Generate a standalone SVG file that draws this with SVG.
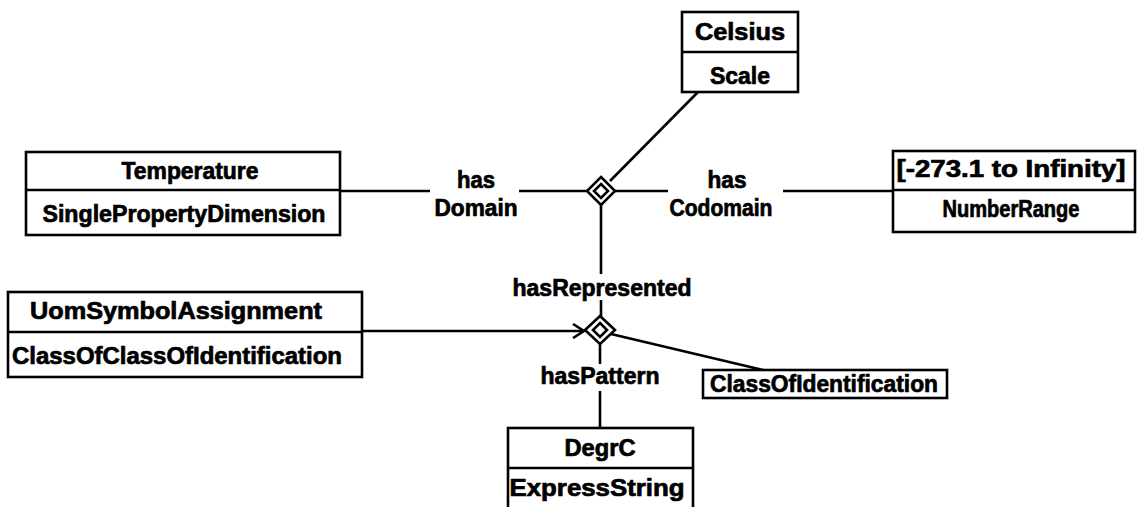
<svg xmlns="http://www.w3.org/2000/svg" width="1139" height="507" viewBox="0 0 1139 507">
<style>
.box{fill:#fff;stroke:#000;stroke-width:2.6}
.div{stroke:#000;stroke-width:2.6}
.ln{stroke:#000;stroke-width:2.6;fill:none}
.dia{fill:#fff;stroke:#000;stroke-width:2.6}
text{font-family:"Liberation Sans",Arial,sans-serif;font-weight:bold;font-size:23px;fill:#000;stroke:#000;stroke-width:0.7;text-anchor:middle}
</style>
<defs>
<marker id="open" markerWidth="14" markerHeight="16" refX="12" refY="8" orient="auto" markerUnits="userSpaceOnUse">
<path d="M1,1 L12,8 L1,15" fill="none" stroke="#000" stroke-width="2.6"/>
</marker>
</defs>
<rect width="1139" height="507" fill="#fff"/>
<g id="connectors">
<line class="ln" x1="340" y1="191" x2="430" y2="191"/>
<line class="ln" x1="519" y1="191" x2="588" y2="191"/>
<line class="ln" x1="614" y1="191" x2="668" y2="191"/>
<line class="ln" x1="783" y1="191" x2="893" y2="191"/>
<line class="ln" x1="610" y1="181" x2="698" y2="92"/>
<line class="ln" x1="601" y1="204" x2="601" y2="274"/>
<line class="ln" x1="601" y1="300" x2="601" y2="317"/>
<line class="ln" x1="362" y1="331" x2="584" y2="331" marker-end="url(#open)"/>
<line class="ln" x1="600" y1="343" x2="600" y2="364"/>
<line class="ln" x1="600" y1="391" x2="600" y2="428"/>
<line class="ln" x1="611" y1="334" x2="763" y2="370"/>
<text x="476" y="188" textLength="38" lengthAdjust="spacingAndGlyphs">has</text>
<text x="476" y="216" textLength="83" lengthAdjust="spacingAndGlyphs">Domain</text>
<text x="727" y="188" textLength="39" lengthAdjust="spacingAndGlyphs">has</text>
<text x="721" y="216" textLength="103" lengthAdjust="spacingAndGlyphs">Codomain</text>
<text x="602" y="296" textLength="179" lengthAdjust="spacingAndGlyphs">hasRepresented</text>
<text x="600" y="384" textLength="119" lengthAdjust="spacingAndGlyphs">hasPattern</text>
</g>
<g id="diamond1">
<polygon class="dia" points="601,177 615,191 601,205 587,191"/>
<polygon class="dia" points="601,184 608,191 601,198 594,191"/>
</g>
<g id="diamond2">
<polygon class="dia" points="600,316 615,330 600,344 585,330"/>
<polygon class="dia" points="600,323 607,330 600,337 593,330"/>
</g>
<g id="celsius">
<rect class="box" x="682" y="12" width="116" height="80"/>
<line class="div" x1="682" y1="52" x2="798" y2="52"/>
<text x="740" y="40" textLength="90" lengthAdjust="spacingAndGlyphs">Celsius</text>
<text x="740" y="84" textLength="60" lengthAdjust="spacingAndGlyphs">Scale</text>
</g>
<g id="temperature">
<rect class="box" x="26" y="152" width="314" height="83"/>
<line class="div" x1="26" y1="190" x2="340" y2="190"/>
<text x="190" y="179" textLength="137" lengthAdjust="spacingAndGlyphs">Temperature</text>
<text x="184" y="222" textLength="283" lengthAdjust="spacingAndGlyphs">SinglePropertyDimension</text>
</g>
<g id="numberrange">
<rect class="box" x="893" y="151" width="242" height="81"/>
<line class="div" x1="893" y1="190" x2="1135" y2="190"/>
<text x="1011" y="177" textLength="229" lengthAdjust="spacingAndGlyphs">[-273.1 to Infinity]</text>
<text x="1011" y="217" textLength="137" lengthAdjust="spacingAndGlyphs">NumberRange</text>
</g>
<g id="uomsymbolassignment">
<rect class="box" x="8" y="292" width="354" height="85"/>
<line class="div" x1="8" y1="332" x2="362" y2="332"/>
<text x="176" y="319" textLength="292" lengthAdjust="spacingAndGlyphs">UomSymbolAssignment</text>
<text x="177" y="364" textLength="330" lengthAdjust="spacingAndGlyphs">ClassOfClassOfIdentification</text>
</g>
<g id="classofidentification">
<rect class="box" x="703" y="370" width="244" height="28"/>
<text x="824" y="392" textLength="228" lengthAdjust="spacingAndGlyphs">ClassOfIdentification</text>
</g>
<g id="degrc">
<rect class="box" x="508" y="428" width="185" height="84"/>
<line class="div" x1="508" y1="468" x2="693" y2="468"/>
<text x="600" y="456" textLength="71" lengthAdjust="spacingAndGlyphs">DegrC</text>
<text x="597" y="496" textLength="175" lengthAdjust="spacingAndGlyphs">ExpressString</text>
</g>
</svg>
